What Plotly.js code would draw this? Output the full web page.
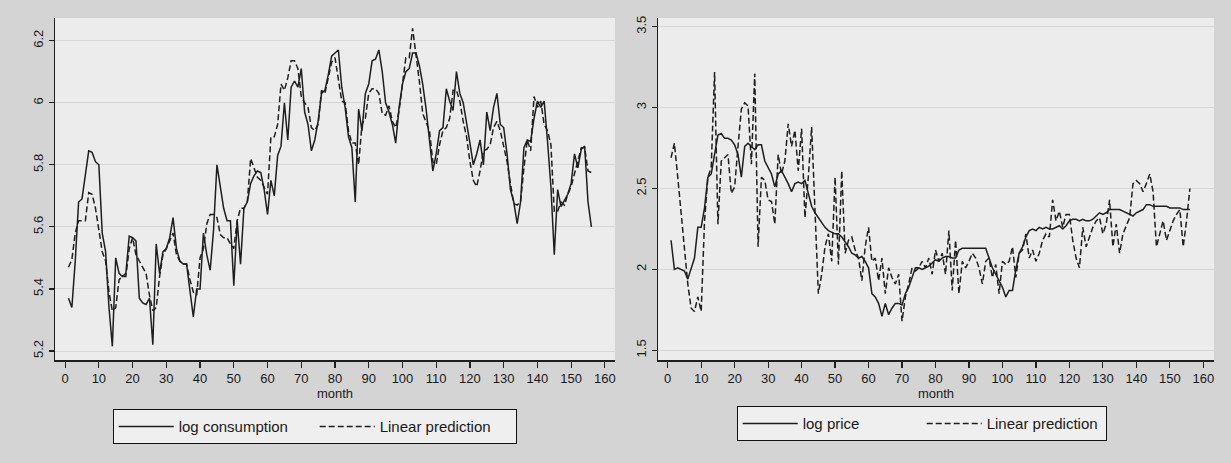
<!DOCTYPE html>
<html>
<head>
<meta charset="utf-8">
<script src="https://cdn.plot.ly/plotly-3.0.1.min.js"></script>
<style>
html,body{margin:0;padding:0;background:#d4d4d4;}
#chart{width:1231px;height:463px;}
</style>
</head>
<body>
<div id="chart"></div>
<script>
const months = [1,2,3,4,5,6,7,8,9,10,11,12,13,14,15,16,17,18,19,20,21,22,23,24,25,26,27,28,29,30,31,32,33,34,35,36,37,38,39,40,41,42,43,44,45,46,47,48,49,50,51,52,53,54,55,56,57,58,59,60,61,62,63,64,65,66,67,68,69,70,71,72,73,74,75,76,77,78,79,80,81,82,83,84,85,86,87,88,89,90,91,92,93,94,95,96,97,98,99,100,101,102,103,104,105,106,107,108,109,110,111,112,113,114,115,116,117,118,119,120,121,122,123,124,125,126,127,128,129,130,131,132,133,134,135,136,137,138,139,140,141,142,143,144,145,146,147,148,149,150,151,152,153,154,155,156];

const logConsumption = [5.37,5.34,5.49,5.68,5.69,5.77,5.845,5.84,5.81,5.80,5.58,5.52,5.34,5.215,5.50,5.45,5.44,5.45,5.57,5.565,5.555,5.37,5.355,5.35,5.37,5.22,5.545,5.45,5.52,5.53,5.565,5.63,5.53,5.49,5.48,5.48,5.39,5.31,5.40,5.40,5.58,5.51,5.46,5.59,5.80,5.73,5.66,5.62,5.62,5.41,5.62,5.48,5.66,5.68,5.74,5.765,5.78,5.775,5.72,5.64,5.75,5.70,5.83,5.86,6.00,5.88,6.05,6.07,6.05,6.11,5.97,5.93,5.845,5.88,5.94,6.03,6.04,6.09,6.15,6.16,6.17,6.05,5.985,5.89,5.855,5.68,5.98,5.91,6.03,6.06,6.135,6.14,6.17,6.10,6.00,5.97,5.93,5.87,5.985,6.06,6.10,6.11,6.16,6.16,6.12,6.06,5.98,5.88,5.78,5.835,5.91,5.92,6.045,6.005,5.975,6.10,6.03,6.00,5.94,5.87,5.80,5.835,5.88,5.80,5.97,5.91,5.985,6.03,5.93,5.92,5.835,5.72,5.68,5.61,5.68,5.855,5.88,5.875,5.95,6.005,5.985,6.005,5.875,5.73,5.51,5.72,5.665,5.685,5.705,5.74,5.835,5.79,5.85,5.86,5.68,5.60];

const predConsumption = [5.47,5.495,5.58,5.62,5.62,5.62,5.71,5.705,5.66,5.585,5.52,5.49,5.39,5.33,5.34,5.43,5.44,5.44,5.53,5.565,5.51,5.49,5.47,5.45,5.38,5.33,5.34,5.44,5.51,5.53,5.555,5.58,5.51,5.49,5.48,5.48,5.43,5.39,5.38,5.50,5.53,5.61,5.64,5.64,5.63,5.575,5.565,5.565,5.545,5.53,5.62,5.66,5.66,5.68,5.82,5.79,5.76,5.75,5.73,5.705,5.89,5.89,5.93,6.06,6.04,6.08,6.135,6.135,6.11,6.02,6.00,5.985,5.92,5.91,5.93,6.04,6.03,6.08,6.13,6.145,6.07,6.005,6.00,5.91,5.87,5.87,5.80,5.93,5.95,6.03,6.045,6.045,6.03,5.965,5.96,5.99,5.94,5.92,5.975,6.07,6.145,6.145,6.24,6.155,6.07,5.965,5.94,5.91,5.81,5.80,5.865,5.91,5.92,5.95,6.04,6.04,6.005,5.94,5.89,5.81,5.75,5.73,5.78,5.845,5.85,5.865,5.92,5.94,5.91,5.855,5.81,5.74,5.675,5.67,5.68,5.79,5.88,5.845,6.02,5.985,6.005,5.93,5.91,5.865,5.65,5.65,5.68,5.67,5.705,5.73,5.77,5.81,5.855,5.855,5.78,5.775];

const logPrice = [2.18,2.00,2.01,2.00,1.99,1.94,2.01,2.07,2.26,2.26,2.38,2.57,2.59,2.71,2.83,2.84,2.81,2.81,2.80,2.77,2.71,2.57,2.76,2.78,2.76,2.74,2.77,2.77,2.67,2.63,2.59,2.51,2.59,2.61,2.57,2.53,2.48,2.53,2.54,2.53,2.55,2.47,2.39,2.35,2.32,2.29,2.26,2.24,2.23,2.22,2.22,2.20,2.17,2.14,2.10,2.09,2.07,2.08,2.05,2.01,1.85,1.83,1.79,1.71,1.79,1.72,1.76,1.79,1.79,1.78,1.85,1.89,1.95,2.01,2.01,2.00,2.01,2.02,2.04,2.06,2.05,2.07,2.08,2.08,2.07,2.07,2.12,2.13,2.13,2.13,2.13,2.13,2.13,2.13,2.13,2.07,2.01,1.97,1.93,1.89,1.83,1.87,1.87,2.00,2.10,2.14,2.20,2.24,2.25,2.24,2.26,2.25,2.26,2.25,2.25,2.26,2.27,2.25,2.27,2.30,2.31,2.31,2.30,2.31,2.30,2.30,2.31,2.33,2.35,2.34,2.35,2.37,2.37,2.37,2.37,2.36,2.35,2.34,2.33,2.35,2.36,2.37,2.40,2.40,2.39,2.39,2.39,2.39,2.39,2.38,2.38,2.38,2.38,2.37,2.37,2.37];

const predPrice = [2.69,2.78,2.57,2.34,2.12,1.91,1.76,1.74,1.83,1.74,2.30,2.57,2.63,3.22,2.28,2.67,2.69,2.71,2.47,2.51,2.76,2.99,3.03,3.01,2.65,3.21,2.14,2.57,2.55,2.43,2.42,2.28,2.71,2.59,2.67,2.90,2.76,2.86,2.61,2.87,2.32,2.57,2.88,2.38,1.85,1.97,2.14,2.22,2.05,2.57,2.03,2.61,2.10,2.18,2.20,2.12,2.07,1.93,2.14,2.26,2.05,2.07,1.93,2.07,1.85,2.01,1.95,1.91,1.97,1.68,1.83,1.91,2.01,1.99,2.01,2.05,2.01,2.07,1.97,2.12,2.05,2.10,1.97,2.24,1.87,2.18,1.85,2.05,2.01,2.05,2.10,2.07,2.01,1.91,2.05,2.07,1.95,2.03,1.85,2.05,2.03,2.05,2.14,1.95,2.10,2.12,2.22,2.07,2.12,2.05,2.10,2.18,2.22,2.20,2.43,2.30,2.36,2.26,2.34,2.34,2.18,2.07,2.01,2.26,2.14,2.20,2.26,2.30,2.32,2.22,2.28,2.43,2.14,2.28,2.10,2.22,2.27,2.32,2.53,2.55,2.53,2.48,2.53,2.59,2.48,2.14,2.22,2.30,2.18,2.24,2.30,2.34,2.37,2.14,2.30,2.50];

const consTicks = [5.2,5.4,5.6,5.8,6,6.2];
const priceTicks = [1.5,2,2.5,3,3.5];
const monthTicks = [0,10,20,30,40,50,60,70,80,90,100,110,120,130,140,150,160];

const lineCol = '#1e1e1e';
const FONT = 'Liberation Sans, Arial, sans-serif';

const traces = [
  {x: months, y: logConsumption, type:'scatter', mode:'lines', name:'log consumption',
   line:{color:lineCol, width:1.5}, xaxis:'x', yaxis:'y', legend:'legend'},
  {x: months, y: predConsumption, type:'scatter', mode:'lines', name:'Linear prediction',
   line:{color:lineCol, width:1.5, dash:'6px,3px'}, xaxis:'x', yaxis:'y', legend:'legend'},
  {x: months, y: logPrice, type:'scatter', mode:'lines', name:'log price',
   line:{color:lineCol, width:1.5}, xaxis:'x2', yaxis:'y2', legend:'legend2'},
  {x: months, y: predPrice, type:'scatter', mode:'lines', name:'Linear prediction',
   line:{color:lineCol, width:1.5, dash:'6px,3px'}, xaxis:'x2', yaxis:'y2', legend:'legend2'}
];

function xAxis(domain, range, anchor){
  return {domain: domain, range: range, anchor: anchor,
    tickmode:'array', tickvals: monthTicks, ticktext: monthTicks.map(String),
    ticks:'outside', ticklen:6, tickwidth:1.2, tickcolor:lineCol,
    showline:true, linecolor:lineCol, linewidth:1.5,
    showgrid:false, zeroline:false,
    tickfont:{family:FONT, size:13, color:'#1a1a1a'},
    title:{text:'month', font:{family:FONT, size:13, color:'#1a1a1a'}, standoff:2}};
}
function yAxis(domain, range, anchor, ticks){
  return {domain: domain, range: range, anchor: anchor,
    tickmode:'array', tickvals: ticks, ticktext: ticks.map(String),
    tickangle:-90,
    ticks:'outside', ticklen:5, tickwidth:1.2, tickcolor:lineCol,
    showline:true, linecolor:lineCol, linewidth:1.5,
    showgrid:true, gridcolor:'#d6d6d6', gridwidth:1, zeroline:false,
    tickfont:{family:FONT, size:13, color:'#1a1a1a'}};
}

const yDom = [1-360/463, 1-18/463];
const legendBase = {orientation:'h', xanchor:'center', yanchor:'top',
    bgcolor:'#efefef', bordercolor:'#111', borderwidth:1.2, itemwidth:55,
    font:{family:FONT, size:15, color:'#1a1a1a'}};
const layout = {
  width:1231, height:463,
  margin:{l:0, r:0, t:0, b:0},
  paper_bgcolor:'#d4d4d4', plot_bgcolor:'#ececec',
  font:{family:FONT, color:'#1a1a1a'},
  showlegend:true,
  xaxis: xAxis([55/1231, 615/1231], [-3, 163], 'y'),
  yaxis: yAxis(yDom, [5.171, 6.273], 'x', consTicks),
  xaxis2: xAxis([658/1231, 1214/1231], [-2.9, 163.2], 'y2'),
  yaxis2: yAxis(yDom, [1.44, 3.554], 'x2', priceTicks),
  legend: Object.assign({}, legendBase, {x:315/1231, y:1-409/463, entrywidth:131}),
  legend2: Object.assign({}, legendBase, {x:922/1231, y:1-406/463, entrywidth:114})
};

Plotly.newPlot('chart', traces, layout, {staticPlot:true, displayModeBar:false});
</script>
</body>
</html>
